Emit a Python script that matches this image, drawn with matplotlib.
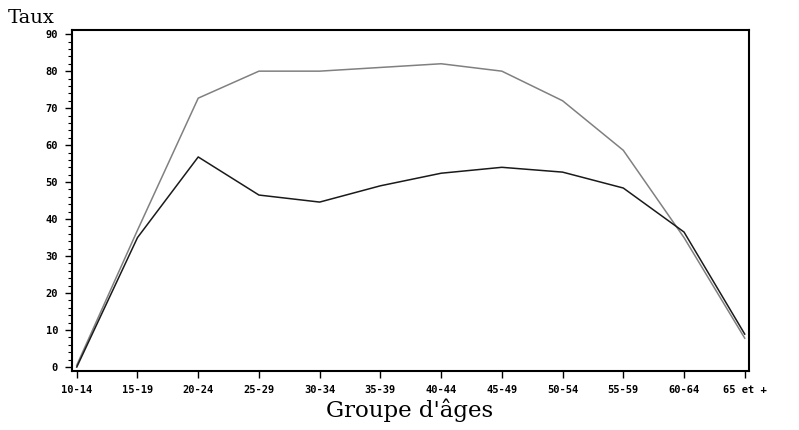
import numpy as np
import matplotlib
matplotlib.use('Agg')
import matplotlib.pyplot as plt
from matplotlib.ticker import MultipleLocator

# age groups and rates
groupes = ['10-14', '15-19', '20-24', '25-29', '30-34', '35-39',
           '40-44', '45-49', '50-54', '55-59', '60-64', '65 et +']
taux_gris = [0.5, 37, 72.7, 80, 80, 81, 82, 80, 72, 58.6, 35, 7.8]
taux_noir = [0, 35, 56.8, 46.5, 44.6, 49, 52.4, 54, 52.7, 48.4, 36.5, 8.9]

fig = plt.figure(figsize=(7.99, 4.30), dpi=100)
ax = fig.add_axes([0.090, 0.137, 0.8474, 0.793])

x = np.arange(len(groupes))
ax.plot(x, taux_gris, '-', color='#808080', lw=1.1)
ax.plot(x, taux_noir, '-', color='#1a1a1a', lw=1.1)

ax.set_xlim(-0.08, 11.07)
ax.set_ylim(-1.1, 91.1)
ax.set_xticks(x)
ax.set_xticklabels(groupes)
ax.yaxis.set_major_locator(MultipleLocator(10))
ax.yaxis.set_minor_locator(MultipleLocator(2))

for lab in ax.get_xticklabels() + ax.get_yticklabels():
    lab.set_fontfamily('DejaVu Sans Mono')
    lab.set_fontweight('bold')
    lab.set_fontsize(7.5)

ax.tick_params(axis='both', which='major', direction='out', length=5, width=1, pad=5)
ax.tick_params(axis='y', which='minor', direction='out', length=3, width=0.8)
for sp in ax.spines.values():
    sp.set_linewidth(1.5)

fig.text(0.010, 0.958, 'Taux', family='DejaVu Serif', fontsize=14, ha='left', va='center')
fig.text(0.512, 0.047, "Groupe d'âges", family='DejaVu Serif', fontsize=16.5, ha='center', va='center')

fig.savefig('out.png', dpi=100)
